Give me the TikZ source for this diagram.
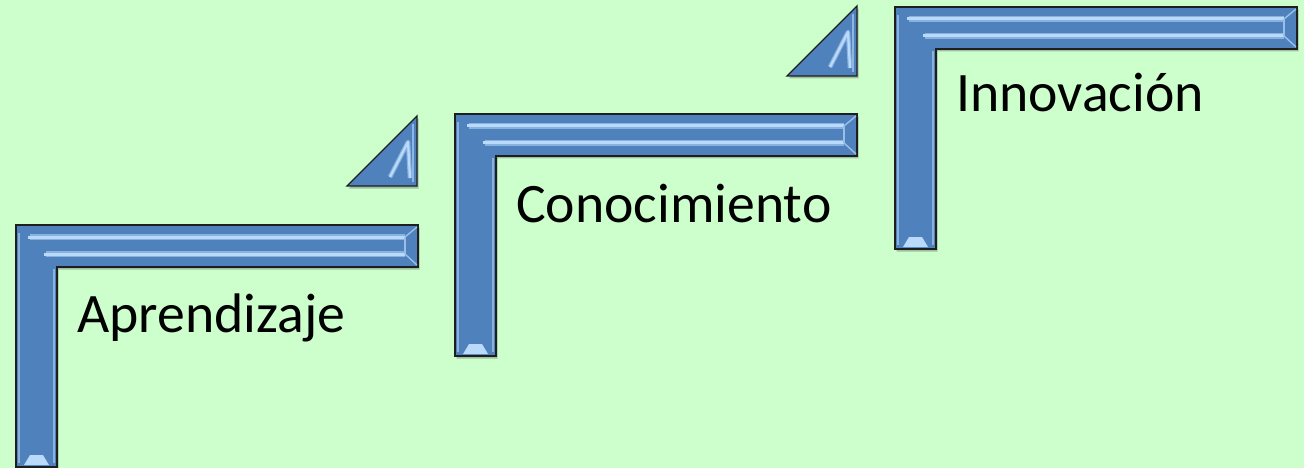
\documentclass[tikz,border=0pt]{standalone}
\usepackage{fontspec}
\setmainfont{Carlito}
\usetikzlibrary{shadows}
\definecolor{bg}{RGB}{204,255,204}
\definecolor{stepblue}{RGB}{79,129,189}
\definecolor{steplight}{RGB}{185,218,250}
\definecolor{stepedge}{RGB}{30,30,30}
\tikzset{
  stepfill/.style={fill=stepblue, draw=stepedge, line width=1.3pt, line join=miter,
    drop shadow={shadow xshift=1.5pt, shadow yshift=-2.5pt, opacity=0.35, fill=black!70}},
  hiliteglow/.style={draw=steplight!55!stepblue, line width=6pt, line cap=butt},
  hilite/.style={draw=steplight, line width=3pt, line cap=butt},
  hilitethin/.style={draw=steplight!70!stepblue, line width=1.4pt},
  steplabel/.style={anchor=base west, inner sep=0pt, font=\fontsize{55.7}{60}\selectfont, text=black},
  stairL/.pic={
    \path[stepfill] (0,0) -- (402,0) -- (402,42) -- (41,42) -- (41,242) -- (0,242) -- cycle;
    \draw[hiliteglow] (14,12) -- (389,12);
    \draw[hiliteglow] (30,29) -- (389,29);
    \draw[hilite] (12,12) -- (389,12);
    \draw[hilite] (28,29) -- (389,29);
    \draw[hilitethin] (389,12) -- (401,2);
    \draw[hilitethin] (389,29) -- (401,40);
    \draw[hilitethin] (389,12) -- (389,29);
    \draw[hilitethin, steplight!55!stepblue, line width=2pt] (3,8) -- (3,238);
    \draw[hilitethin, steplight!55!stepblue, line width=2pt] (38,44) -- (38,238);
    \fill[steplight] (8,240) -- (33,240) -- (27,230) -- (14,230) -- cycle;
  },
  stairT/.pic={
    \path[stepfill] (0,70) -- (70,0) -- (70,70) -- cycle;
    \draw[draw=steplight!55!stepblue, line width=4.5pt, line join=round] (43,61) -- (61,26) -- (63,62);
    \draw[hilite, line width=2.2pt, line join=round] (43,61) -- (61,26) -- (63,62);
    \draw[hilitethin, steplight!60!stepblue] (66,8) -- (66,66);
  }
}
\begin{document}
\begin{tikzpicture}[x=1pt,y=-1pt]
\useasboundingbox (0,0) rectangle (1304,468);
\fill[bg] (0,0) rectangle (1304,468);
\pic at (16,225) {stairL};
\pic at (455,114) {stairL};
\pic at (895,7) {stairL};
\pic at (347,116) {stairT};
\pic at (787,6) {stairT};
\node[steplabel] (apr) at (77,332) {Aprendizaje};
\node[steplabel] (con) at (516,222) {Conocimiento};
\node[steplabel] (inn) at (956,112) {Innovación};
\end{tikzpicture}
\end{document}
